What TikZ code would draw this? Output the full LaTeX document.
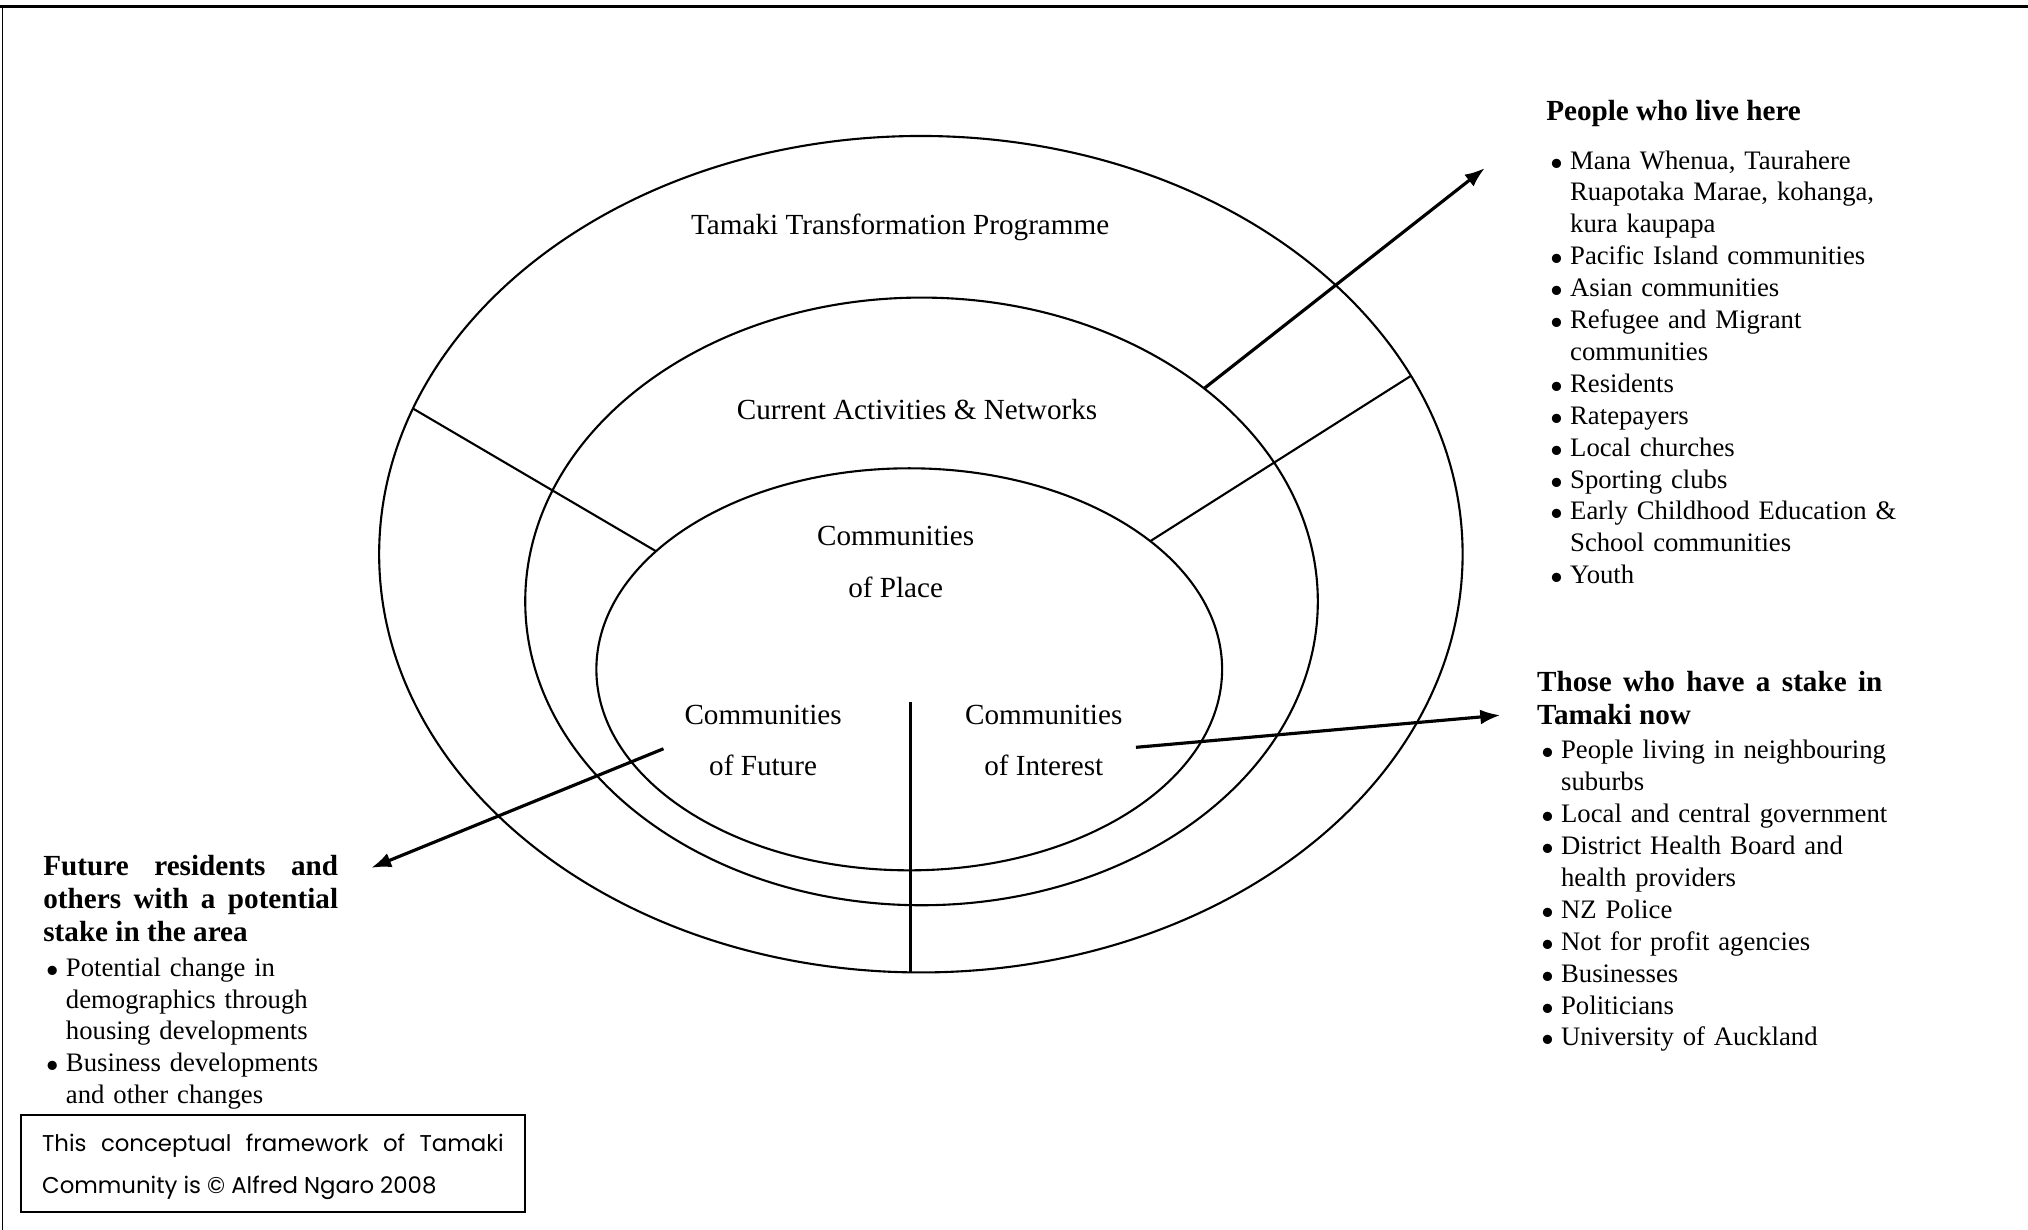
\documentclass[tikz,border=0pt]{standalone}
\usepackage{fontspec}
\usepackage{graphicx}
\setmainfont{Liberation Serif}
\newfontfamily\notefont{Poppins}
\usetikzlibrary{shapes.geometric,arrows.meta}

\newcommand{\itm}{\par\hangindent=0.195cm\hangafter=1\noindent\makebox[0.195cm][l]{\scalebox{0.8}{$\bullet$}}}

\begin{document}
\begin{tikzpicture}[x=0.012934cm,y=-0.012934cm,
    ring/.style={ellipse,draw,line width=0.6pt,inner sep=0pt,outer sep=0pt},
    ringtext/.style={font=\fontsize{8.3}{14.7}\selectfont,align=center,inner sep=0pt},
    head/.style={font=\fontsize{8.3}{9.4}\selectfont\bfseries,inner sep=0pt,anchor=north west},
    items/.style={font=\fontsize{7.6}{9.08}\selectfont,align=left,inner sep=0pt,anchor=north west,text width=4cm},
    divider/.style={line width=0.6pt},
    pointer/.style={-{Latex[length=2mm,width=1.5mm]},line width=0.9pt}]
	\useasboundingbox (0,0) rectangle (1568,951);
	% page frame
	\draw[line width=0.8pt] (0,5)--(1568,5);
	\draw[line width=0.5pt] (2,5)--(2,951);
	% the three rings
	\node[ring,minimum width=10.839cm,minimum height=8.368cm](outer) at (712,428.5) {};
	\node[ring,minimum width=7.929cm,minimum height=6.079cm](middle) at (712.5,465) {};
	\node[ring,minimum width=6.260cm,minimum height=4.022cm](inner) at (703,517.5) {};
	\draw[divider] (outer.164.5)--(inner.155.7);
	\draw[divider] (outer.20.6)--(inner.28.3);
	\coordinate (split) at (704,543);
	\draw[divider] (split)--(split |- outer.south);
	% ring labels
	\node[ringtext](prog) at (696,176) {Tamaki Transformation Programme};
	\node[ringtext](current) at (709,316.5) {Current Activities \& Networks};
	\node[ringtext](place) at (692.5,434.5) {Communities\\of Place};
	\node[ringtext](future) at (590,572.5) {Communities\\of Future};
	\node[ringtext](interest) at (807,572.5) {Communities\\of Interest};
	% people who live here
	\node[head,anchor=west](livehead) at (1195,87.5) {People who live here};
	\node[items](livelist) at (1198.4,105.5) {\itm Mana Whenua, Taurahere\newline Ruapotaka Marae, kohanga,\newline kura kaupapa
		\itm Pacific Island communities
		\itm Asian communities
		\itm Refugee and Migrant\newline communities
		\itm Residents
		\itm Ratepayers
		\itm Local churches
		\itm Sporting clubs
		\itm Early Childhood Education \&\newline School communities
		\itm Youth\par};
	% stake now
	\node[head,align=justify,text width=3.453cm](stakehead) at (1188,518.5) {Those who have a stake in\linebreak Tamaki now};
	\node[items](stakelist) at (1191.4,561.5) {\itm People living in neighbouring\newline suburbs
		\itm Local and central government
		\itm District Health Board and\newline health providers
		\itm NZ Police
		\itm Not for profit agencies
		\itm Businesses
		\itm Politicians
		\itm University of Auckland\par};
	% future stake
	\node[head,align=justify,text width=2.949cm](futurehead) at (33,660.6) {Future residents and\linebreak others with a potential\linebreak stake in the area};
	\node[items](futurelist) at (35.4,729.5) {\itm Potential change in\newline demographics through\newline housing developments
		\itm Business developments\newline and other changes\par};
	% note box
	\node[draw,line width=0.7pt,inner xsep=0.2135cm,inner ysep=0pt,minimum height=0.970cm,text width=4.617cm,align=justify,font=\notefont\fontsize{6.5}{12}\selectfont](note) at (211,899.5) {\rule{0pt}{0.25cm}This conceptual framework of Tamaki\linebreak Community is \textcopyright{} Alfred Ngaro 2008};
	% arrows out of the rings
	\coordinate (livetip) at (1148,130);
	\coordinate (staketip) at (1160,553);
	\coordinate (futuretip) at (287,671);
	\draw[pointer] (middle.37.2)--(livetip);
	\draw[pointer,shorten <=0.13cm] ([yshift=-0.08cm]interest.east)--(staketip);
	\draw[pointer,shorten <=0.22cm] (future.west)--(futuretip);
\end{tikzpicture}
\end{document}
